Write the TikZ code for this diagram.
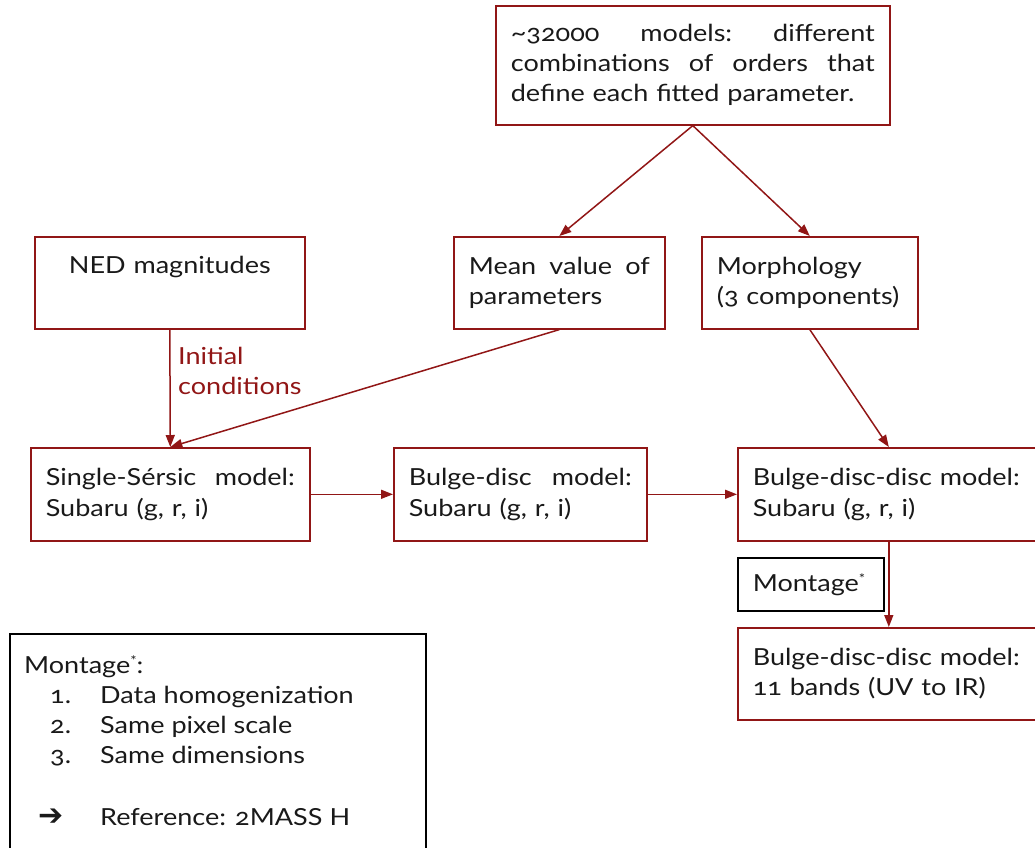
\documentclass[tikz,border=0pt]{standalone}
\usepackage{fontspec}
\setmainfont{Lato}[Numbers=OldStyle, FakeStretch=1.15]
\newfontfamily\symfont{DejaVu Sans}
\usetikzlibrary{arrows.meta}
\definecolor{dred}{RGB}{145,22,22}
\definecolor{txt}{RGB}{25,25,25}
\newcommand{\myast}{\raisebox{8pt}{\fontsize{13}{13}\selectfont *}}
\begin{document}
\begin{tikzpicture}[x=1pt,y=-1pt,
  box/.style={draw=dred, line width=1.6pt, anchor=north west, inner xsep=15pt, inner ysep=0pt,
    align=left, font=\fontsize{23.5}{30}\selectfont, text=txt},
  blackbox/.style={box, draw=black},
  arr/.style={draw=dred, line width=1.5pt, -{Triangle[length=12pt,width=9pt]}},
  lbl/.style={anchor=north west, inner sep=0pt, align=left, font=\fontsize{23.5}{30}\selectfont}
]
\useasboundingbox (0,0) rectangle (1035,847);

\node[box, text width=364pt, minimum height=119pt] (top) at (495,5)
  {\makebox[364pt][l]{\textasciitilde32000\hfill models:\hfill different}\\
   \makebox[364pt][l]{combinations\hfill of\hfill orders\hfill that}\\
   define each fitted parameter.};

\node[box, text width=240pt, minimum height=92pt, align=center] (ned) at (34,236)
  {NED magnitudes\\[-4pt] \strut};
\node[box, text width=181pt, minimum height=92pt] (mean) at (453,236)
  {\makebox[181pt][l]{Mean\hfill value\hfill of}\\parameters};
\node[box, text width=186pt, minimum height=92pt] (morph) at (701,236)
  {Morphology\\(3 components)};

\node[box, text width=249pt, minimum height=93pt] (single) at (30,447)
  {\makebox[249pt][l]{Single-Sérsic\hfill model:}\\[1pt]Subaru (g, r, i)};
\node[box, text width=223pt, minimum height=93pt] (bd) at (393,447)
  {\makebox[223pt][l]{Bulge-disc\hfill model:}\\[1pt]Subaru (g, r, i)};
\node[box, text width=272pt, minimum height=93pt] (bdd) at (737,447)
  {Bulge-disc-disc model:\\[1pt]Subaru (g, r, i)};

\node[blackbox, text width=116pt, minimum height=53pt] (mont) at (737,557)
  {Montage\myast};

\node[box, text width=272pt, minimum height=92pt] (bdd2) at (737,627)
  {Bulge-disc-disc model:\\11 bands (UV to IR)};

\node[lbl, text=dred] (ic) at (178,347) {Initial\\conditions};

\node[draw=black, line width=1.6pt, anchor=north west, minimum width=416pt, minimum height=240pt, inner sep=0pt] (leg) at (9,633) {};
\node[lbl, text=txt] (legtext) at (24,655)
  {Montage\myast:\\
   \hspace*{26pt}\makebox[50pt][l]{1.}Data homogenization\\
   \hspace*{26pt}\makebox[50pt][l]{2.}Same pixel scale\\
   \hspace*{26pt}\makebox[50pt][l]{3.}Same dimensions\\
   \strut\\[2pt]
   \hspace*{14pt}\makebox[62pt][l]{{\symfont\bfseries\fontsize{30}{30}\selectfont ➔}}Reference: 2MASS H};

\draw[arr] (top.south) -- (mean.north);
\draw[arr] (top.south) -- (morph.north);
\draw[arr] (ned.south) -- (single.north);
\draw[arr] (mean.south) -- (single.north);
\draw[arr] (morph.south) -- (bdd.north);
\draw[arr] (single.east) -- (bd.west);
\draw[arr] (bd.east) -- (bdd.west);
\draw[arr] (bdd.south) -- (bdd2.north);
\end{tikzpicture}
\end{document}
